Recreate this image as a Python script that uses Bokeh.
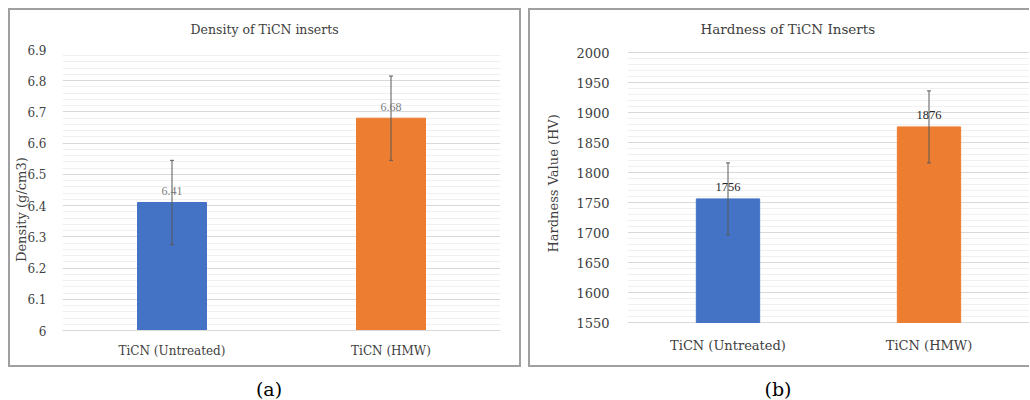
import numpy as np
from bokeh.plotting import figure
from bokeh.models import (ColumnDataSource, FactorRange, Range1d, FixedTicker, Whisker,
                          TeeHead, LabelSet, Title, Div, CustomJSTickFormatter)
from bokeh.layouts import row, column
from bokeh.embed import file_html
from bokeh.resources import INLINE

# ---------------- data ----------------
categories_a = ["TiCN (Untreated)", "TiCN (HMW)"]
density = [6.41, 6.68]
density_err = [0.135, 0.135]
density_ticks = [6.0, 6.1, 6.2, 6.3, 6.4, 6.5, 6.6, 6.7, 6.8, 6.9]

categories_b = ["TiCN (Untreated)", "TiCN (HMW)"]
hardness = [1756, 1876]
hardness_err = [60, 60]
hardness_ticks = [1550, 1600, 1650, 1700, 1750, 1800, 1850, 1900, 1950, 2000]

bar_colors = ["#4472C4", "#ED7D31"]

title_a = "Density of TiCN inserts"
title_b = "Hardness of TiCN Inserts"
ylabel_a = "Density (g/cm3)"
ylabel_b = "Hardness Value (HV)"
caption_a = "(a)"
caption_b = "(b)"

SERIF = "DejaVu Serif"

# layout geometry (px). The canvas ends up 4px larger than the declared size
# (2px CSS border on each side), so the frame is placed on the real canvas.
DECL_H = 355
CANVAS_H = DECL_H + 4
FRAME_TOP = 39
FRAME_BOTTOM = 320


def minor_from(ticks, n=5):
    out = []
    for a, b in zip(ticks[:-1], ticks[1:]):
        step = (b - a) / n
        out += [a + step * k for k in range(1, n)]
    return out


def panel(cats, vals, errs, ticks, title, ylabel, labels, cfg):
    src = ColumnDataSource(dict(
        cat=cats, val=vals, color=bar_colors,
        upper=[v + e for v, e in zip(vals, errs)],
        lower=[v - e for v, e in zip(vals, errs)],
        label=labels,
    ))
    top_px, bot_px = cfg["tick_px"]
    ppu = (bot_px - top_px) / (ticks[-1] - ticks[0])
    y0 = ticks[0] - (FRAME_BOTTOM - bot_px) / ppu
    y1 = ticks[-1] + (top_px - FRAME_TOP) / ppu

    p = figure(width=cfg["w"], height=DECL_H, x_range=FactorRange(factors=cats),
               y_range=Range1d(y0, y1),
               output_backend="svg", toolbar_location=None,
               min_border_left=cfg["bl"], min_border_right=cfg["br"],
               min_border_top=FRAME_TOP, min_border_bottom=CANVAS_H - FRAME_BOTTOM,
               styles=cfg["css"])
    p.outline_line_color = None
    p.x_range.range_padding = 0
    p.vbar(x="cat", top="val", bottom=ticks[0], width=0.315, color="color", source=src)

    w = Whisker(source=src, base="cat", upper="upper", lower="lower",
                line_color="#595959", line_width=1, level="annotation",
                upper_head=TeeHead(size=4, line_color="#595959", line_width=1),
                lower_head=TeeHead(size=4, line_color="#595959", line_width=1))
    p.add_layout(w)

    p.add_layout(LabelSet(source=src, x="cat", y="val", text="label", y_offset=cfg["lo"],
                          text_align="center", text_baseline="middle",
                          text_font=SERIF, text_font_size=cfg["lfs"], text_color=cfg["lc"]))

    yt = FixedTicker(ticks=ticks, minor_ticks=minor_from(ticks))
    p.yaxis.ticker = yt
    p.yaxis.formatter = CustomJSTickFormatter(code="return String(Math.round(tick*100)/100);")
    p.yaxis.axis_line_color = None
    p.yaxis.major_tick_line_color = None
    p.yaxis.minor_tick_line_color = None
    p.yaxis.major_tick_out = 0
    p.yaxis.major_tick_in = 0
    p.yaxis.major_label_standoff = cfg["ys"]
    p.yaxis.major_label_text_font = SERIF
    p.yaxis.major_label_text_font_size = cfg["yfs"]
    p.yaxis.major_label_text_color = "#404040"

    p.xaxis.axis_line_color = cfg["xline"]
    p.xaxis.major_tick_line_color = None
    p.xaxis.minor_tick_line_color = None
    p.xaxis.major_tick_out = 0
    p.xaxis.major_tick_in = 0
    p.xaxis.major_label_standoff = cfg["xs"]
    p.xaxis.major_label_text_font = SERIF
    p.xaxis.major_label_text_font_size = cfg["xfs"]
    p.xaxis.major_label_text_color = "#404040"

    p.xgrid.grid_line_color = None
    p.ygrid.ticker = yt
    p.ygrid.grid_line_color = "#d9d9d9"
    p.ygrid.grid_line_width = 1
    p.ygrid.minor_grid_line_color = "#f0f0f0"

    p.title.text = title
    p.title.align = "left"
    p.title.vertical_align = "top"
    p.title.offset = cfg["to"]
    p.title.standoff = 21
    p.title.text_font = SERIF
    p.title.text_font_size = cfg["tfs"]
    p.title.text_font_style = "normal"
    p.title.text_color = "#404040"

    p.add_layout(Title(text=ylabel, align="left", offset=cfg["yo"], standoff=cfg["yls"],
                       text_font=SERIF, text_font_size="13px", text_font_style="normal",
                       text_color="#404040"), "left")
    return p


border = {"border": "2px solid #a0a0a0", "box-sizing": "content-box"}

pa = panel(categories_a, density, density_err, density_ticks, title_a, ylabel_a,
           [f"{v:g}" for v in density],
           dict(w=509, bl=52, br=23, tick_px=(39, 320), lo=11, lfs="12px", lc="#7f7f7f",
                ys=12, yfs="12px", xs=13, xfs="12px", xline="#d9d9d9",
                to=128, tfs="12.5px", yo=68.5, yls=-9, css=border))
pb = panel(categories_b, hardness, hardness_err, hardness_ticks, title_b, ylabel_b,
           [f"{v:g}" for v in hardness],
           dict(w=499, bl=90, br=2, tick_px=(42, 312), lo=12, lfs="12.5px", lc="#262626",
                ys=14, yfs="13px", xs=7, xfs="13px", xline=None,
                to=73, tfs="13.5px", yo=78, yls=26,
                css=dict(border, **{"border-right": "none"})))

cap = {"font-family": "DejaVu Serif", "font-size": "19px", "color": "#000",
       "text-align": "center", "padding-top": "9px"}
div_a = Div(text=caption_a, width=522, height=22, margin=0, styles=cap)
div_b = Div(text=caption_b, width=482, height=22, margin=0, styles=cap)

layout = column(row(pa, pb, spacing=7), row(div_a, div_b, spacing=7), spacing=0,
                margin=(8, 0, 0, 8))
open("out.html", "w").write(file_html(layout, INLINE))
